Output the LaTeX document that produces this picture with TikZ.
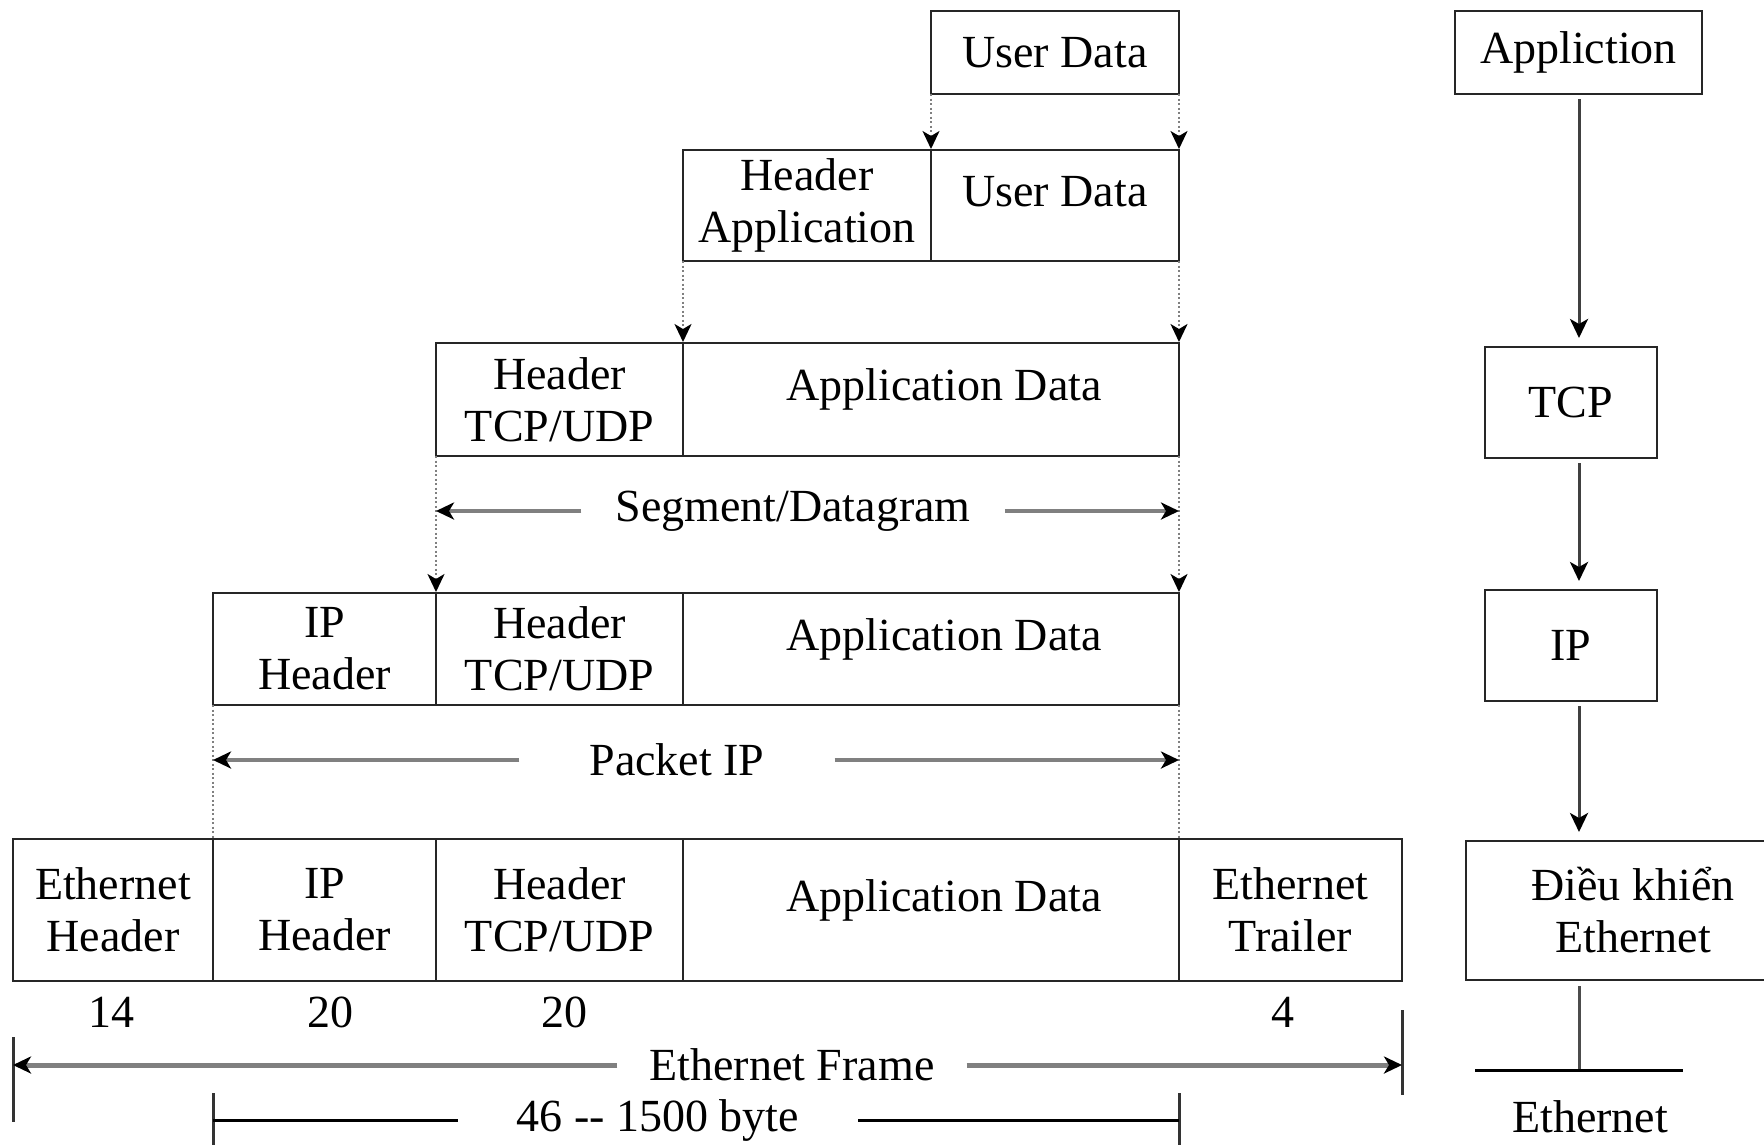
\documentclass[tikz,border=0pt]{standalone}
\usepackage{fontspec}
\setmainfont{Liberation Serif}
\usetikzlibrary{arrows.meta, positioning}

\begin{document}
\begin{tikzpicture}[
    x=1pt, y=-1pt,
    font=\fontsize{46}{52}\selectfont,
    % cells of the encapsulated frames
    cell/.style={draw=black!85, line width=2.5pt, outer sep=0pt, inner sep=0pt, align=center, minimum height=#1},
    cell/.default=112pt,
    upper/.style={text height=32pt, text depth=30pt},
    % protocol stack on the right
    layer/.style={draw=black!85, line width=2.5pt, outer sep=0pt, inner sep=0pt, align=center},
    lbl/.style={inner sep=0pt, fill=white},
    % connectors
    dotarr/.style={draw=gray, line width=2.2pt, dash pattern=on 2pt off 2.5pt, shorten >=1pt, -{Stealth[length=18pt,width=17pt,inset=5pt,color=black]}},
    dotline/.style={draw=gray, line width=2.2pt, dash pattern=on 2pt off 2.5pt},
    meas/.style={draw=gray, line width=4pt, -{Stealth[length=18pt,width=17pt,inset=5pt,color=black]}},
    dim/.style={draw=black, line width=3pt},
    tick/.style={draw=black!80, line width=3pt},
    stackarr/.style={draw=black!75, line width=3pt, shorten <=5pt, shorten >=9pt, -{Stealth[length=19pt,width=18pt,inset=5pt,color=black]}}
]
\useasboundingbox (0,0) rectangle (1764,1144);

% ===============================
% Encapsulation rows
% ===============================
\node[cell=83pt, minimum width=248pt, anchor=north west] (ud1) at (931,11) {User Data};

\node[cell=111pt, minimum width=248pt, anchor=north west] (ha2) at (683,150) {Header\\Application};
\node[cell=111pt, minimum width=248pt, upper, right=0pt of ha2] (ud2) {User Data};

\node[cell=113pt, minimum width=247pt, anchor=north west] (tcp3) at (436,343) {Header\\TCP/UDP};
\node[cell=113pt, minimum width=496pt, upper, right=0pt of tcp3] (ad3) {\hspace*{26pt}Application Data};

\node[cell, minimum width=223pt, anchor=north west] (iph4) at (213,593) {IP\\Header};
\node[cell, minimum width=247pt, right=0pt of iph4] (tcp4) {Header\\TCP/UDP};
\node[cell, minimum width=496pt, upper, right=0pt of tcp4] (ad4) {\hspace*{26pt}Application Data};

\node[cell=142pt, minimum width=200pt, anchor=north west] (eth5) at (13,839) {Ethernet\\Header};
\node[cell=142pt, minimum width=223pt, right=0pt of eth5] (iph5) {IP\\Header};
\node[cell=142pt, minimum width=247pt, right=0pt of iph5] (tcp5) {Header\\TCP/UDP};
\node[cell=142pt, minimum width=496pt, upper, right=0pt of tcp5] (ad5) {\hspace*{26pt}Application Data};
\node[cell=142pt, minimum width=223pt, right=0pt of ad5] (etr5) {Ethernet\\Trailer};

% Dotted guides between rows
\draw[dotarr] (ud1.south west) -- (ud2.north west);
\draw[dotarr] (ud1.south east) -- (ud2.north east);
\draw[dotarr] (ha2.south west) -- (ad3.north west);
\draw[dotarr] (ud2.south east) -- (ad3.north east);
\draw[dotarr] (tcp3.south west) -- (tcp4.north west);
\draw[dotarr] (ad3.south east) -- (ad4.north east);
\draw[dotline] (iph4.south west) -- (iph5.north west);
\draw[dotline] (ad4.south east) -- (ad5.north east);

% Spans
\node[lbl, inner xsep=34pt] (seg) at (793,511) {Segment/Datagram};
\draw[meas] (seg) -- (seg -| tcp3.west);
\draw[meas] (seg) -- (seg -| ad3.east);

\node[lbl, inner xsep=70pt] (pkt) at (677,760) {Packet IP};
\draw[meas] (pkt) -- (pkt -| iph4.west);
\draw[meas] (pkt) -- (pkt -| ad4.east);

% Byte counts
\node (n14) at (111,1012) {14};
\node (n20a) at (330,1012) {20};
\node (n20b) at (564,1012) {20};
\node (n4) at (1283,1012) {4};

% Frame length
\node[lbl, inner xsep=32pt] (frm) at (792,1065) {Ethernet Frame};
\draw[tick] (eth5.west |- 0,1037) -- (eth5.west |- 0,1122);
\draw[tick] (etr5.east |- 0,1010) -- (etr5.east |- 0,1095);
\draw[meas, line width=5pt] (frm) -- (frm -| eth5.west);
\draw[meas, line width=5pt] (frm) -- (frm -| etr5.east);

\node[lbl, inner xsep=59pt] (pay) at (658,1120) {46 {-}{-} 1500 byte};
\draw[tick] (iph5.west |- 0,1093) -- (iph5.west |- 0,1150);
\draw[tick] (ad5.east |- 0,1093) -- (ad5.east |- 0,1150);
\draw[dim] (pay) -- (pay -| iph5.west);
\draw[dim] (pay) -- (pay -| ad5.east);

% ===============================
% Protocol stack
% ===============================
\node[layer, minimum width=247pt, minimum height=83pt, anchor=north west] (app) at (1455,11) {Appliction};
\node[layer, minimum width=172pt, minimum height=111pt, anchor=north west] (tcp) at (1485,347) {TCP};
\node[layer, minimum width=172pt, minimum height=111pt, anchor=north west] (ip) at (1485,590) {IP};
\node[layer, minimum width=334pt, minimum height=139pt, anchor=north west] (ctl) at (1466,841) {Điều khiển\\Ethernet};

\draw[stackarr] (app.south -| 1579,0) -- (tcp.north -| 1579,0);
\draw[stackarr] (tcp.south -| 1579,0) -- (ip.north -| 1579,0);
\draw[stackarr] (ip.south -| 1579,0) -- (ctl.north -| 1579,0);

\coordinate (bus) at (1579,1070);
\draw[draw=black!70, line width=3pt, shorten <=6pt] (ctl.south -| bus) -- (bus);
\draw[dim] ([xshift=-104pt]bus) -- ([xshift=104pt]bus);
\node (ethnet) at (1590,1117) {Ethernet};
\end{tikzpicture}
\end{document}
